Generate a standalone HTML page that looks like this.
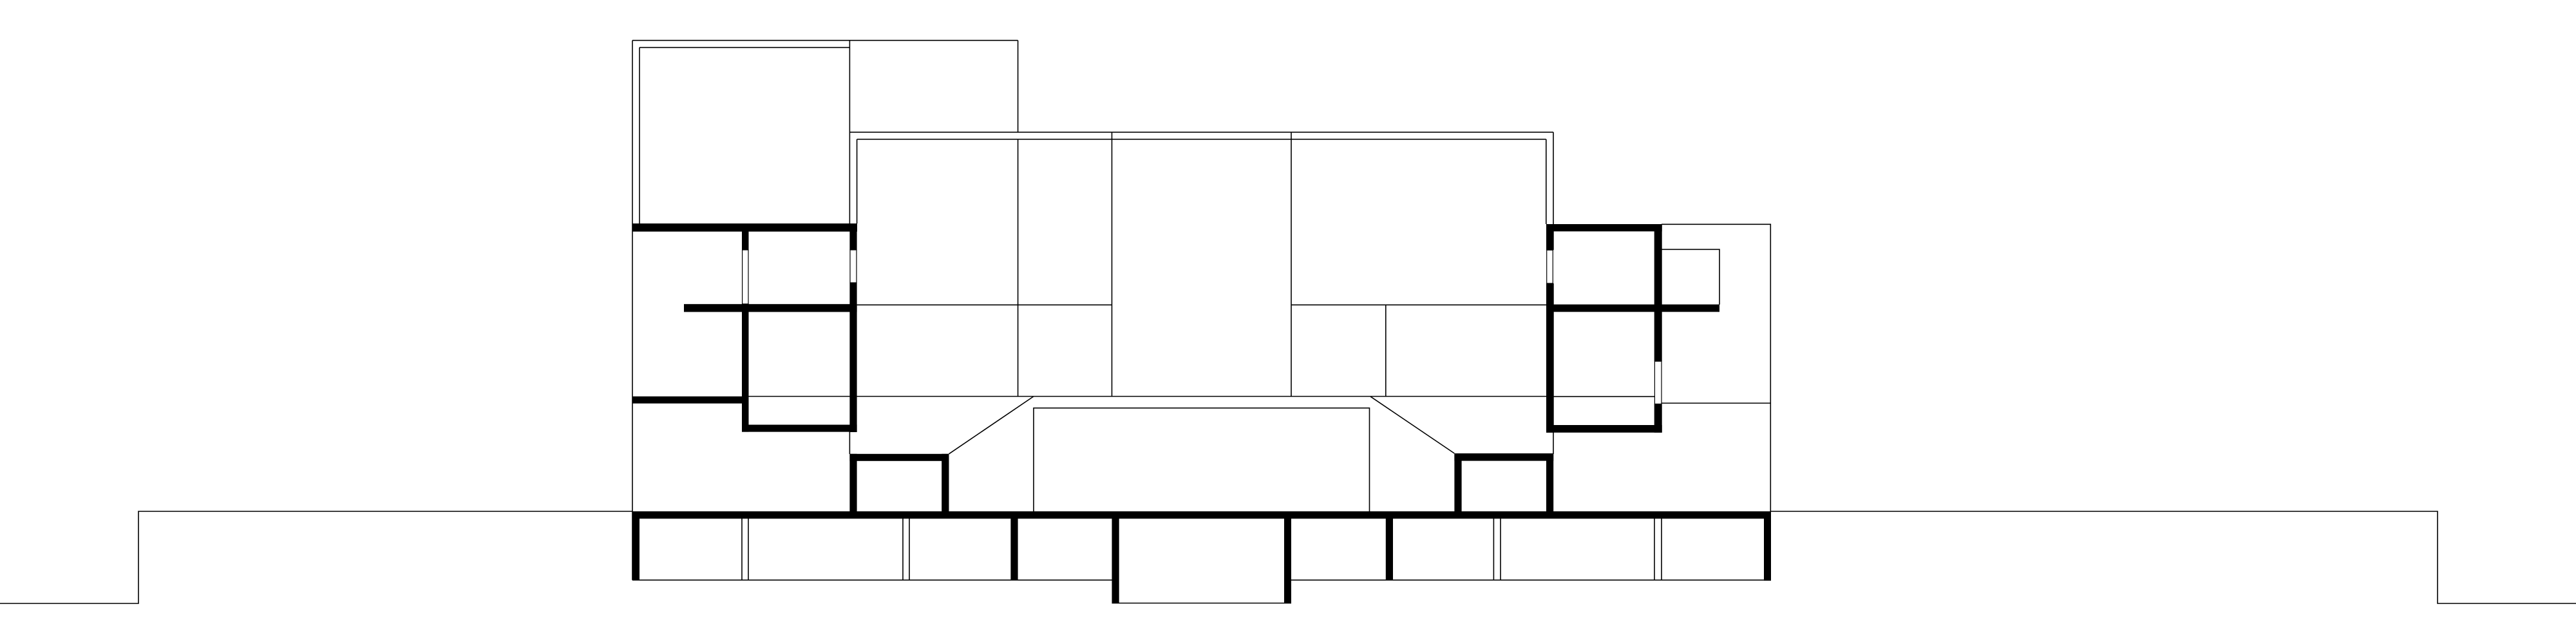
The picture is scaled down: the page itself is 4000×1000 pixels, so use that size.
<!DOCTYPE html>
<html><head><meta charset="utf-8"><style>html,body{margin:0;padding:0;background:#fff}svg{display:block}</style></head>
<body>
<svg width="4000" height="1000" viewBox="0 0 4000 1000" xmlns="http://www.w3.org/2000/svg">
<g stroke="#000" stroke-width="1.6" fill="none">
<polyline points="0,937 215,937 215,794 982,794"/>
<polyline points="2750,794 3785,794 3785,937 4000,937"/>
<line x1="982" y1="62.7" x2="982" y2="900.7"/>
<line x1="982" y1="62.7" x2="1580.6" y2="62.7"/>
<line x1="1580.6" y1="62.7" x2="1580.6" y2="205.3"/>
<line x1="1319.4" y1="62.7" x2="1319.4" y2="347"/>
<line x1="993" y1="73.7" x2="993" y2="347"/>
<line x1="993" y1="73.7" x2="1319.4" y2="73.7"/>
<line x1="1319.4" y1="205.3" x2="2412" y2="205.3"/>
<line x1="2412" y1="205.3" x2="2412" y2="348"/>
<line x1="1330.6" y1="216.3" x2="2400.8" y2="216.3"/>
<line x1="1330.6" y1="216.3" x2="1330.6" y2="347"/>
<line x1="2400.8" y1="216.3" x2="2400.8" y2="348"/>
<line x1="1580.6" y1="216.3" x2="1580.6" y2="615.5"/>
<line x1="1726.5" y1="205.3" x2="1726.5" y2="615.5"/>
<line x1="2005" y1="205.3" x2="2005" y2="615.5"/>
<line x1="2151.8" y1="473" x2="2151.8" y2="615.5"/>
<line x1="1330.6" y1="473.4" x2="1726.5" y2="473.4"/>
<line x1="2005" y1="473.4" x2="2401" y2="473.4"/>
<line x1="1162" y1="615.5" x2="2401" y2="615.5"/>
<line x1="2412" y1="615.7" x2="2569" y2="615.7"/>
<polyline points="1605,794 1605,633.6 2126.5,633.6 2126.5,794"/>
<line x1="1473.5" y1="704.8" x2="1605" y2="615.5"/>
<line x1="2128" y1="615.7" x2="2258.4" y2="704"/>
<line x1="1319.4" y1="670" x2="1319.4" y2="705"/>
<line x1="2412" y1="671" x2="2412" y2="705"/>
<polyline points="2580,348.3 2749.3,348.3 2749.3,794"/>
<line x1="2580" y1="626" x2="2749.3" y2="626"/>
<polyline points="2580,387.3 2670,387.3 2670,473"/>
<line x1="982" y1="900.7" x2="1726.5" y2="900.7"/>
<line x1="2005" y1="900.7" x2="2750" y2="900.7"/>
<line x1="1726.5" y1="936.5" x2="2005" y2="936.5"/>
<line x1="1152" y1="805" x2="1152" y2="900.7"/><line x1="1162" y1="805" x2="1162" y2="900.7"/>
<line x1="1402" y1="805" x2="1402" y2="900.7"/><line x1="1412" y1="805" x2="1412" y2="900.7"/>
<line x1="2319.4" y1="805" x2="2319.4" y2="900.7"/><line x1="2330" y1="805" x2="2330" y2="900.7"/>
<line x1="2569" y1="805" x2="2569" y2="900.7"/><line x1="2580" y1="805" x2="2580" y2="900.7"/>
</g>
<g fill="#000">
<rect x="982" y="347" width="349" height="12.6"/>
<rect x="1152" y="359" width="10.5" height="29"/>
<rect x="1152" y="471.6" width="10.5" height="199"/>
<rect x="1319.4" y="347" width="11.2" height="41"/>
<rect x="1319.4" y="439" width="11.2" height="232"/>
<rect x="1062" y="472.2" width="268.6" height="12.2"/>
<rect x="982" y="615.5" width="180" height="11"/>
<rect x="1152" y="659.5" width="178.6" height="11.1"/>
<rect x="1319.4" y="704.8" width="11.2" height="90"/>
<rect x="1319.4" y="704.8" width="154.1" height="11"/>
<rect x="1462.2" y="704.8" width="11.3" height="90"/>
<rect x="2258.4" y="704" width="11.2" height="91"/>
<rect x="2401" y="704" width="11.2" height="91"/>
<rect x="2258.4" y="704" width="153.8" height="11.6"/>
<rect x="2401" y="348" width="11.7" height="40.3"/>
<rect x="2401" y="440" width="11.7" height="231.7"/>
<rect x="2401" y="348" width="179.7" height="11.3"/>
<rect x="2568.7" y="348" width="12" height="213"/>
<rect x="2568.7" y="627.3" width="12" height="44.4"/>
<rect x="2401" y="472.7" width="269" height="11.6"/>
<rect x="2401" y="660" width="179.7" height="11.7"/>
<rect x="982" y="794" width="1768" height="11.4"/>
<rect x="982" y="794" width="11" height="106.7"/>
<rect x="2739" y="794" width="11" height="107.7"/>
<rect x="1569.4" y="794" width="11.2" height="106.7"/>
<rect x="1726.5" y="794" width="11.2" height="142.5"/>
<rect x="1994" y="794" width="11" height="142.5"/>
<rect x="2151.8" y="794" width="11.2" height="106.7"/>
</g>
<g fill="#fff" stroke="#000" stroke-width="1.2">
<rect x="1152.6" y="388" width="9.4" height="84"/>
<rect x="1320" y="388" width="10" height="51"/>
<rect x="2401.7" y="388.3" width="9.6" height="51.7"/>
<rect x="2569.4" y="561" width="10.6" height="66.3"/>
</g>
</svg>
</body></html>
